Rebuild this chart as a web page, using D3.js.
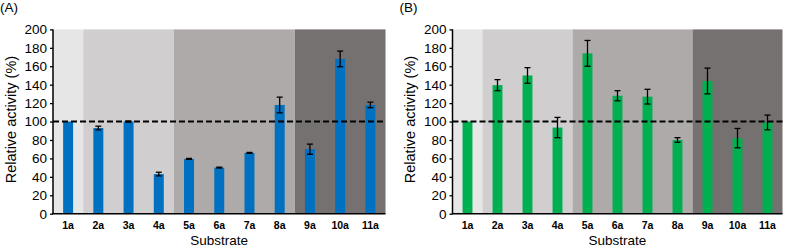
<!DOCTYPE html>
<html>
<head>
<meta charset="utf-8">
<script src="https://cdn.jsdelivr.net/npm/d3@7"></script>
<style>
  body { margin: 0; background: #fff; }
  svg { display: block; font-family: "Liberation Sans", Arial, Helvetica, sans-serif; }
  .tick text { font-size: 13.5px; fill: #000; }
  .xlab { font-size: 10.5px; font-weight: bold; }
</style>
</head>
<body>
<div id="chart"></div>
<script>
var substrates = ['1a', '2a', '3a', '4a', '5a', '6a', '7a', '8a', '9a', '10a', '11a'];

var activityA = [100, 93, 100, 43, 59.5, 50, 66, 118, 70, 168, 118];
var errorA    = [0, 2, 0.5, 2, 0.5, 0.5, 0.5, 8.5, 5.5, 8.5, 3];

var activityB = [100, 139.5, 150, 93.5, 174, 128, 127, 80, 144, 82, 99];
var errorB    = [0, 6, 8.5, 11, 14, 5.5, 8, 2.5, 14, 10.5, 8];

var groups = [['1a'], ['2a', '3a', '4a'], ['5a', '6a', '7a', '8a'], ['9a', '10a', '11a']];
var groupColors = ['#e7e6e6', '#d0cece', '#aeaaaa', '#767171'];

var yTicks = [0, 20, 40, 60, 80, 100, 120, 140, 160, 180, 200];
var refLine = 100;

var width = 787;
var height = 247;

var svg = d3.select('#chart')
    .append('svg')
        .attr('width', width)
        .attr('height', height);

var top_ = 29.4;
var bottom = 213.7;

function drawPanel(opts) {

    var g = svg.append('g');

    var x = d3.scaleBand()
        .domain(substrates)
        .range([opts.left, opts.right])
        .padding(0);

    var y = d3.scaleLinear()
        .domain([0, 200])
        .range([bottom, top_]);

    var bw = x.bandwidth() * 0.33;

    // shaded substrate groups
    g.selectAll('.grp')
        .data(groups)
        .enter()
        .append('rect')
            .attr('class', 'grp')
            .attr('x', d => x(d[0]))
            .attr('width', d => x(d[d.length - 1]) + x.bandwidth() - x(d[0]))
            .attr('y', y(200))
            .attr('height', y(0) - y(200))
            .attr('fill', (d, i) => groupColors[i]);

    var rows = substrates.map((s, i) => ({ key: s, value: opts.values[i], err: opts.errors[i] }));

    g.selectAll('.bar')
        .data(rows)
        .enter()
        .append('rect')
            .attr('class', 'bar')
            .attr('x', d => x(d.key) + x.bandwidth() / 2 - bw / 2)
            .attr('width', bw)
            .attr('y', d => y(d.value))
            .attr('height', d => y(0) - y(d.value))
            .attr('fill', opts.color);

    // 100 % reference
    g.append('line')
        .attr('x1', opts.left)
        .attr('x2', opts.right)
        .attr('y1', y(refLine))
        .attr('y2', y(refLine))
        .attr('stroke', '#000')
        .attr('stroke-width', 2)
        .attr('stroke-dasharray', '6,3');

    // error bars
    var err = g.selectAll('.err')
        .data(rows.filter(d => d.err > 0))
        .enter()
        .append('g')
            .attr('class', 'err')
            .attr('transform', d => 'translate(' + (x(d.key) + x.bandwidth() / 2) + ',0)')
            .attr('stroke', '#000')
            .attr('stroke-width', 1.3);

    err.append('line')
        .attr('y1', d => y(d.value + d.err))
        .attr('y2', d => y(d.value - d.err));
    err.append('line')
        .attr('x1', -3).attr('x2', 3)
        .attr('y1', d => y(d.value + d.err))
        .attr('y2', d => y(d.value + d.err));
    err.append('line')
        .attr('x1', -3).attr('x2', 3)
        .attr('y1', d => y(d.value - d.err))
        .attr('y2', d => y(d.value - d.err));

    // axes
    var yAxis = g.append('g')
        .attr('transform', 'translate(' + opts.left + ',0)')
        .call(d3.axisLeft(y).tickValues(yTicks).tickSize(3).tickPadding(3));
    yAxis.select('.domain').attr('stroke', '#000').attr('stroke-width', 1.5).attr('d', 'M0,' + y(200) + 'V' + y(0));
    yAxis.selectAll('.tick line').attr('stroke', '#000').attr('stroke-width', 1.3);
    yAxis.selectAll('.tick text').attr('font-family', null).attr('font-size', null);

    g.append('line')
        .attr('x1', opts.left - 0.75)
        .attr('x2', opts.right)
        .attr('y1', y(0))
        .attr('y2', y(0))
        .attr('stroke', '#000')
        .attr('stroke-width', 1.5);

    g.selectAll('.xlab')
        .data(substrates)
        .enter()
        .append('text')
            .attr('class', 'xlab')
            .attr('x', d => x(d) + x.bandwidth() / 2)
            .attr('y', 228.5)
            .attr('text-anchor', 'middle')
            .text(d => d);

    g.append('text')
        .attr('x', (opts.left + opts.right) / 2)
        .attr('y', 244.5)
        .attr('text-anchor', 'middle')
        .attr('font-size', 13.5)
        .text('Substrate');

    g.append('text')
        .attr('transform', 'translate(' + (opts.left - 37.5) + ',' + ((top_ + bottom) / 2 - 2) + ') rotate(-90)')
        .attr('text-anchor', 'middle')
        .attr('font-size', 14.5)
        .text('Relative activity (%)');

    g.append('text')
        .attr('x', opts.left - 53)
        .attr('y', 11.5)
        .attr('font-size', 13.5)
        .text(opts.label);
}

drawPanel({ left: 53, right: 385.5, values: activityA, errors: errorA, color: '#0070c0', label: '(A)' });
drawPanel({ left: 452.5, right: 782.5, values: activityB, errors: errorB, color: '#00b050', label: '(B)' });
</script>
</body>
</html>
